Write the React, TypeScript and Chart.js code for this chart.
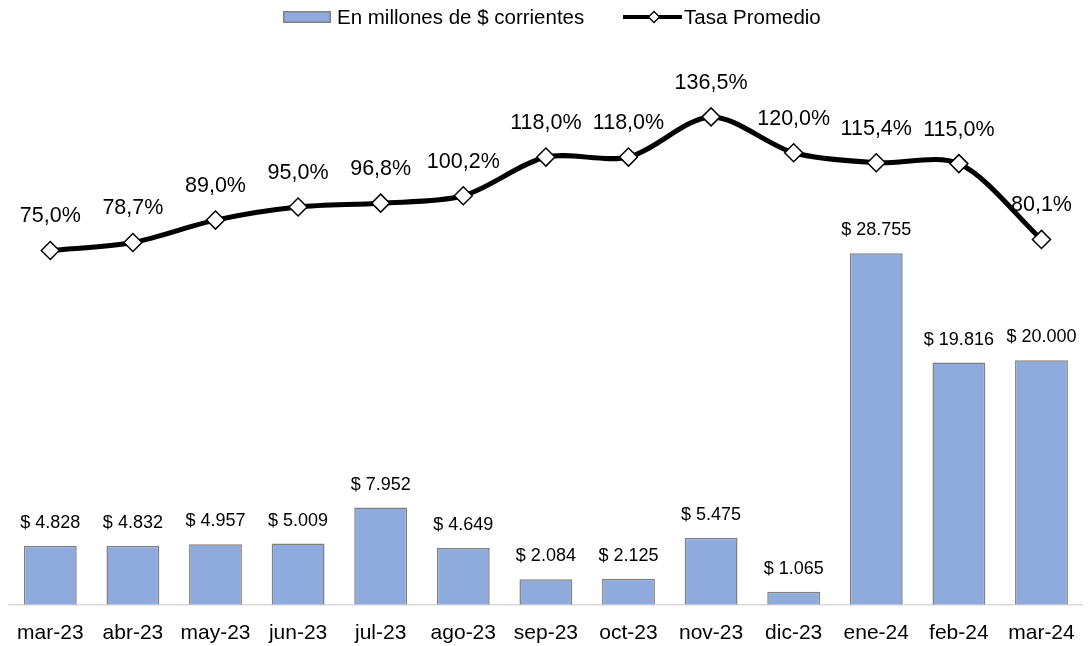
import React, { useEffect, useRef } from "react";
import { Chart, registerables } from "chart.js";

Chart.register(...registerables);

const categories = ["mar-23", "abr-23", "may-23", "jun-23", "jul-23", "ago-23", "sep-23", "oct-23", "nov-23", "dic-23", "ene-24", "feb-24", "mar-24"];
const montos = [4828, 4832, 4957, 5009, 7952, 4649, 2084, 2125, 5475, 1065, 28755, 19816, 20000];
const tasas = [75.0, 78.7, 89.0, 95.0, 96.8, 100.2, 118.0, 118.0, 136.5, 120.0, 115.4, 115.0, 80.1];
const barLabel = "En millones de $ corrientes";
const lineLabel = "Tasa Promedio";

const FONT = "'Liberation Sans', Arial, sans-serif";
const BAR_FILL = "#8FAADC";
const BAR_BORDER = "#808080";

const fmtMonto = (v: number) => "$ " + String(v).replace(/\B(?=(\d{3})+(?!\d))/g, ".");
const fmtTasa = (v: number) => v.toFixed(1).replace(".", ",") + "%";

const valueLabels = {
  id: "valueLabels",
  afterDatasetsDraw(chart: any) {
    const ctx = chart.ctx;
    ctx.save();
    ctx.fillStyle = "#000";
    ctx.textAlign = "center";
    ctx.textBaseline = "middle";
    const barMeta = chart.getDatasetMeta(0);
    ctx.font = `18px ${FONT}`;
    barMeta.data.forEach((el: any, i: number) => {
      ctx.fillText(fmtMonto(montos[i]), el.x, el.y - 23);
    });
    const lineMeta = chart.getDatasetMeta(1);
    ctx.font = `21.5px ${FONT}`;
    lineMeta.data.forEach((el: any, i: number) => {
      ctx.fillText(fmtTasa(tasas[i]), el.x, el.y - 34);
    });
    ctx.restore();
  },
};

const customLegend = {
  id: "customLegend",
  afterDraw(chart: any) {
    const ctx = chart.ctx;
    const y = 17;
    ctx.save();
    // bar swatch
    ctx.fillStyle = BAR_FILL;
    ctx.fillRect(283, y - 6, 48, 12);
    ctx.strokeStyle = BAR_BORDER;
    ctx.lineWidth = 1.5;
    ctx.strokeRect(283.75, y - 5.25, 46.5, 10.5);
    // line swatch
    ctx.strokeStyle = "#000";
    ctx.lineWidth = 4;
    ctx.beginPath();
    ctx.moveTo(623, y);
    ctx.lineTo(682, y);
    ctx.stroke();
    ctx.beginPath();
    ctx.moveTo(654 - 5.5, y);
    ctx.lineTo(654, y - 5.5);
    ctx.lineTo(654 + 5.5, y);
    ctx.lineTo(654, y + 5.5);
    ctx.closePath();
    ctx.fillStyle = "#fff";
    ctx.fill();
    ctx.lineWidth = 1.3;
    ctx.stroke();
    // texts
    ctx.fillStyle = "#000";
    ctx.font = `20.5px ${FONT}`;
    ctx.textAlign = "left";
    ctx.textBaseline = "middle";
    ctx.fillText(barLabel, 337, y + 1);
    ctx.fillText(lineLabel, 684, y + 1);
    ctx.restore();
  },
};

export default function App() {
  const ref = useRef<HTMLCanvasElement | null>(null);

  useEffect(() => {
    document.body.style.margin = "0";
    Chart.defaults.color = "#000";
    const chart = new Chart(ref.current!, {
      type: "bar",
      data: {
        labels: categories,
        datasets: [
          {
            type: "bar",
            label: barLabel,
            data: montos,
            yAxisID: "yBar",
            backgroundColor: BAR_FILL,
            borderColor: BAR_BORDER,
            borderWidth: 1.5,
            categoryPercentage: 1,
            barPercentage: 0.64,
            order: 2,
          },
          {
            type: "line",
            label: lineLabel,
            data: tasas,
            yAxisID: "yLine",
            borderColor: "#000",
            borderWidth: 5,
            tension: 0.3,
            pointStyle: "rectRot",
            pointRadius: 9,
            pointHoverRadius: 9,
            pointBackgroundColor: "#fff",
            pointBorderColor: "#000",
            pointBorderWidth: 1.5,
            order: 1,
          } as any,
        ],
      },
      options: {
        animation: false,
        responsive: false,
        layout: { autoPadding: false, padding: { left: 9, right: 7, top: 40, bottom: -16 } },
        plugins: {
          tooltip: { enabled: false },
          legend: { display: false },
        },
        scales: {
          x: {
            grid: { display: false, drawTicks: false },
            border: { display: true, color: "#d9d9d9", width: 1.5 },
            ticks: { font: { family: FONT, size: 21 }, color: "#000", padding: 16, maxRotation: 0, autoSkip: false },
          },
          yBar: { display: false, position: "left", min: 0, max: 46200 },
          yLine: { display: false, position: "right", min: -88.1, max: 171.9 },
        },
      },
      plugins: [valueLabels, customLegend],
    });
    return () => chart.destroy();
  }, []);

  return (
    <div style={{ width: 1091, height: 646 }}>
      <canvas ref={ref} width={1091} height={646} style={{ display: "block" }} />
    </div>
  );
}
